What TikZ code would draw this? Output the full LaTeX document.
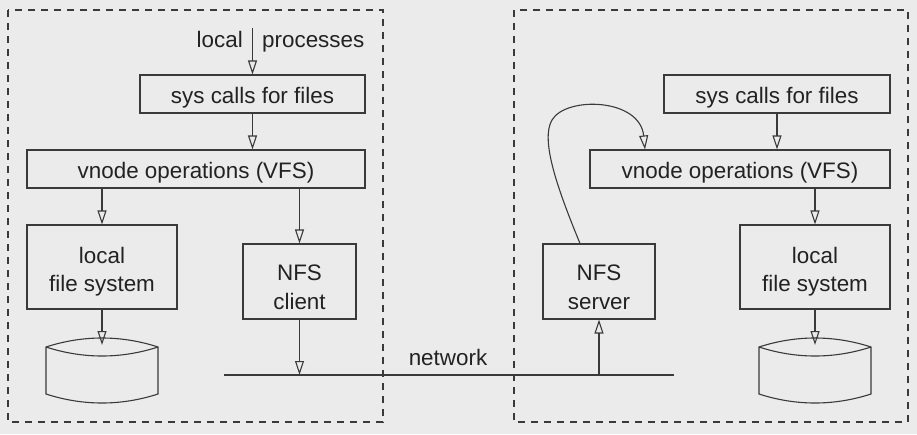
\documentclass[tikz,border=0pt]{standalone}
\usepackage{fontspec}
\setmainfont{Liberation Sans}
\usetikzlibrary{arrows.meta}
\definecolor{bg}{HTML}{EBEBEB}
\definecolor{ln}{HTML}{3A3A3A}
\definecolor{tx}{HTML}{222222}
\newcommand{\twoline}[4]{\parbox[c][#1][c]{#2}{\centering\vspace*{#3}#4\par}}
\begin{document}
\begin{tikzpicture}[x=1pt,y=-1pt,
  every node/.style={font=\fontsize{22.4}{28.5}\selectfont, text=tx},
  box/.style={draw=ln, line width=1.1pt, inner sep=0pt, align=center},
  onebox/.style={box, text height=18pt, text depth=0pt},
  arr/.style={draw=ln, line width=1.1pt, -{Triangle[open,length=14pt,width=9pt]}},
  frame/.style={draw=ln, line width=1.1pt, dash pattern=on 7pt off 6pt},
  disk/.style={draw=ln, line width=1.1pt}]
\fill[bg] (0,0) rectangle (917,434);
\useasboundingbox (0,0) rectangle (917,434);
% frames
\draw[frame] (8,10) rectangle (383,422);
\draw[frame] (514,10) rectangle (908,422);
% left machine
\node[onebox, minimum width=225pt, minimum height=38pt] (sys1) at (252.5,94) {sys calls for files};
\node[onebox, minimum width=338pt, minimum height=38pt] (vnode1) at (196,169) {vnode operations (VFS)};
\node[box] (fs1) at (102,267) {\twoline{84pt}{150pt}{9pt}{local\\file system}};
\node[box] (nfsc) at (299.5,281.5) {\twoline{75pt}{113pt}{12pt}{NFS\\client}};
\coordinate (lp) at (252.5,28);
\node[anchor=base east, inner sep=0pt] (lpl) at (243,47) {local};
\node[anchor=base west, inner sep=0pt] (lpr) at (262,47) {processes};
\draw[arr] (lp) -- (sys1.north);
\draw[arr] (sys1.south) -- (vnode1.north -| sys1.south);
\draw[arr] (vnode1.south -| fs1.north) -- (fs1.north);
\draw[arr] (vnode1.south -| nfsc.north) -- (nfsc.north);
\coordinate (disk1) at (102,345);
\draw[arr] (fs1.south) -- (disk1);
\draw[disk] (46,347) .. controls (83,335) and (121,335) .. (158,347)
  -- (158,394) .. controls (121,406) and (83,406) .. (46,394) -- cycle;
\draw[disk] (46,347) .. controls (83,359) and (121,359) .. (158,347);
% right machine
\node[onebox, minimum width=226pt, minimum height=38pt] (sys2) at (777,94) {sys calls for files};
\node[onebox, minimum width=300pt, minimum height=38pt] (vnode2) at (740,169) {vnode operations (VFS)};
\node[box] (fs2) at (815,267) {\twoline{84pt}{150pt}{9pt}{local\\file system}};
\node[box] (srv) at (599,281.5) {\twoline{75pt}{112pt}{12pt}{NFS\\server}};
\draw[arr] (sys2.south) -- (vnode2.north -| sys2.south);
\draw[arr] (vnode2.south -| fs2.north) -- (fs2.north);
\coordinate (disk2) at (815,345);
\draw[arr] (fs2.south) -- (disk2);
\draw[disk] (759,347) .. controls (796,335) and (834,335) .. (871,347)
  -- (871,394) .. controls (834,406) and (796,406) .. (759,394) -- cycle;
\draw[disk] (759,347) .. controls (796,359) and (834,359) .. (871,347);
\draw[arr] ([xshift=-19pt]srv.north) .. controls (558,190) and (540,140) .. (552,120)
  .. controls (566,96) and (640,98) .. ([xshift=-95pt]vnode2.north);
% network
\coordinate (netl) at (224,375);
\coordinate (netr) at (674,375);
\draw[ln, line width=2pt] (netl) -- (netr);
\node[anchor=base] (netlab) at (448,365) {network};
\draw[arr] (nfsc.south) -- (nfsc.south |- netl);
\draw[arr] (srv.south |- netl) -- (srv.south);
\end{tikzpicture}
\end{document}
